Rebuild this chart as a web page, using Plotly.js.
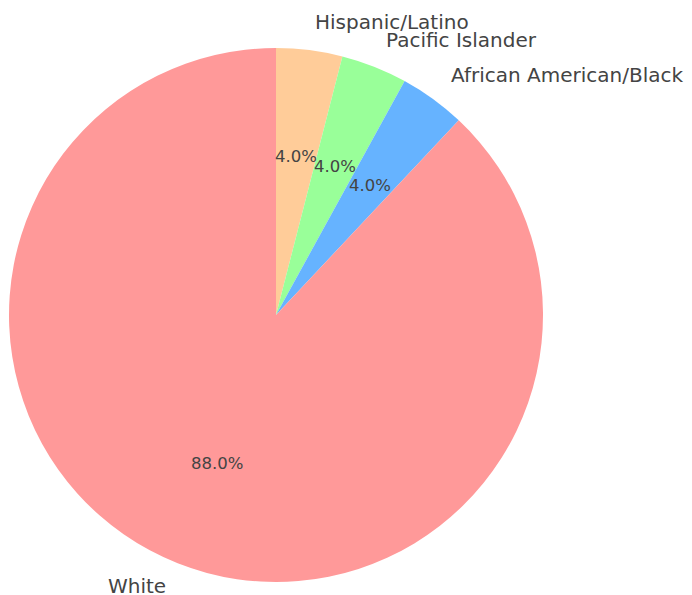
<!DOCTYPE html>
<html>
<head>
<meta charset="utf-8">
<script src="https://cdn.plot.ly/plotly-3.0.1.min.js"></script>
<style>html,body{margin:0;padding:0;background:#fff;}#chart{width:692px;height:595px;}</style>
</head>
<body>
<div id="chart"></div>
<script>
// Slices listed counterclockwise starting at 12 o'clock
const labels = ["White", "African American/Black", "Pacific Islander", "Hispanic/Latino"];
const values = [88, 4, 4, 4];
const colors = ["#ff9999", "#66b3ff", "#99ff99", "#ffcc99"];

const W = 692, H = 595;
// pie geometry (pixels)
const cxPx = 276, cyPx = 315, rPx = 267;
const domX = [(cxPx - rPx) / W, (cxPx + rPx) / W];
const domY = [1 - (cyPx + rPx) / H, 1 - (cyPx - rPx) / H];

const total = values.reduce((a, b) => a + b, 0);
const annotations = [];
let start = 90;
values.forEach((v, i) => {
  const span = 360 * v / total;
  const mid = (start + span / 2) * Math.PI / 180;
  start += span;
  const c = Math.cos(mid), s = Math.sin(mid);
  annotations.push({
    xref: "paper", yref: "paper",
    x: (cxPx + 1.1 * rPx * c) / W,
    y: 1 - (cyPx - 1.1 * rPx * s) / H,
    yshift: 2,
    text: labels[i], showarrow: false,
    xanchor: c > 1e-9 ? "left" : (c < -1e-9 ? "right" : "center"),
    yanchor: "middle",
    font: {family: "DejaVu Sans", size: 20, color: "#444"}
  });
  annotations.push({
    xref: "paper", yref: "paper",
    x: (cxPx + 0.6 * rPx * c) / W,
    y: 1 - (cyPx - 0.6 * rPx * s) / H,
    text: (100 * v / total).toFixed(1) + "%", showarrow: false,
    xanchor: "center", yanchor: "middle",
    font: {family: "DejaVu Sans", size: 16.5, color: "#444"}
  });
});

// Plotly draws clockwise from 12 o'clock: feed the slices in reverse order
const trace = {
  type: "pie",
  labels: labels.slice().reverse(),
  values: values.slice().reverse(),
  marker: {colors: colors.slice().reverse(), line: {width: 0}},
  sort: false,
  direction: "clockwise",
  rotation: 0,
  textinfo: "none",
  hoverinfo: "none",
  domain: {x: domX, y: domY},
  automargin: false
};

Plotly.newPlot("chart", [trace], {
  width: W, height: H,
  margin: {l: 0, r: 0, t: 0, b: 0},
  showlegend: false,
  paper_bgcolor: "#fff",
  annotations: annotations
}, {staticPlot: true});
</script>
</body>
</html>
